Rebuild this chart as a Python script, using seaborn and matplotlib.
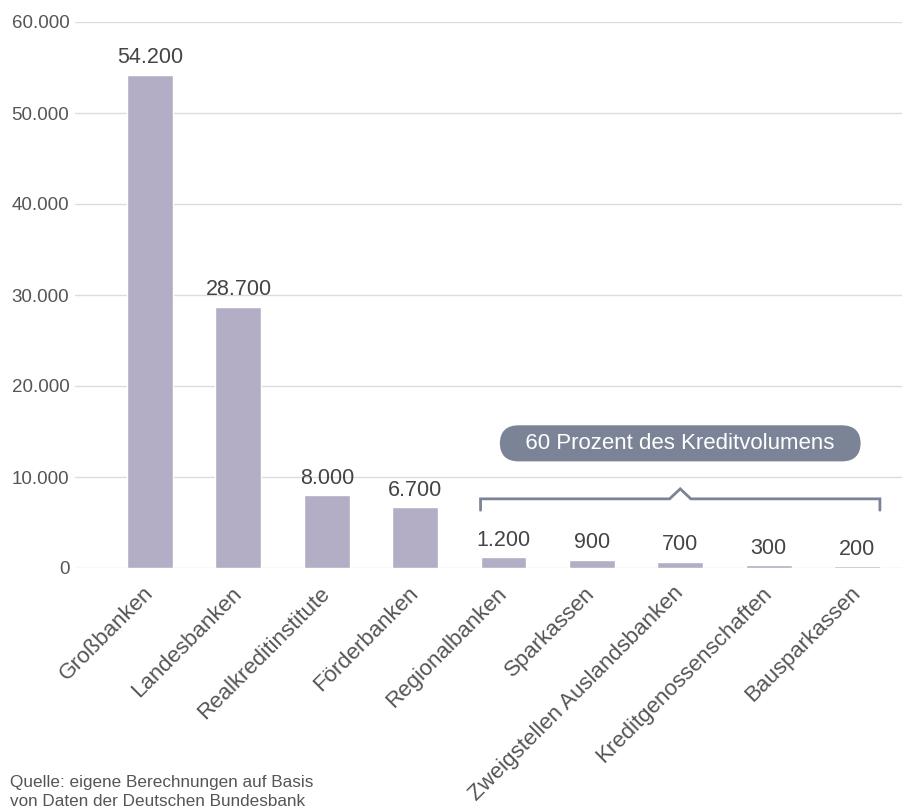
import numpy as np
import pandas as pd
import seaborn as sns
import matplotlib.pyplot as plt

# Daten
kategorien = ["Großbanken", "Landesbanken", "Realkreditinstitute", "Förderbanken",
              "Regionalbanken", "Sparkassen", "Zweigstellen Auslandsbanken",
              "Kreditgenossenschaften", "Bausparkassen"]
werte = [54200, 28700, 8000, 6700, 1200, 900, 700, 300, 200]
y_ticks = [0, 10000, 20000, 30000, 40000, 50000, 60000]

df = pd.DataFrame({"Kategorie": kategorien, "Wert": werte})

def fmt(v):
    return f"{v:,.0f}".replace(",", ".")

sns.set_style("white")
plt.rcParams["font.family"] = ["Liberation Sans", "DejaVu Sans"]

fig = plt.figure(figsize=(9.02, 8.07), dpi=100)
ax = fig.add_axes([75 / 902, 1 - 568 / 807, 1 - 75 / 902, (568 - 22) / 807])

sns.barplot(data=df, x="Kategorie", y="Wert", color="#b3aec6", width=0.52,
            saturation=1, ax=ax, zorder=3)

ax.set_ylim(0, 60000)
ax.set_xlim(-0.85, 8.51)
ax.set_yticks(y_ticks)
ax.set_yticklabels([fmt(v) for v in y_ticks])
ax.yaxis.grid(True, color="#dcdcdc", linewidth=1, zorder=0)
ax.set_axisbelow(True)
for s in ax.spines.values():
    s.set_visible(False)
ax.set_xlabel("")
ax.set_ylabel("")
ax.tick_params(axis="y", length=0, pad=4, labelsize=13.5, labelcolor="#555555")
ax.tick_params(axis="x", length=0, pad=16, labelsize=16, labelcolor="#555555")
plt.setp(ax.get_xticklabels(), rotation=45, ha="right", va="center", rotation_mode="anchor")

# Werte über den Balken
for i, v in enumerate(werte):
    ax.text(i, v + 700, fmt(v), ha="center", va="bottom", fontsize=15.5, color="#444444")

# Klammer über den kleinen Balken
ax.plot([3.74, 3.74, 5.88, 6.0, 6.12, 8.26, 8.26],
        [6350, 7600, 7600, 8700, 7600, 7600, 6350],
        color="#7b8497", linewidth=2, solid_joinstyle="miter", clip_on=False, zorder=4)

ax.text(6.0, 13700, "   60 Prozent des Kreditvolumens   ", ha="center", va="center",
        fontsize=16, color="white", zorder=5,
        bbox=dict(boxstyle="round,pad=0.34,rounding_size=0.85", fc="#7b8497", ec="none"))

fig.text(10 / 902, 1 - 792 / 807, "Quelle: eigene Berechnungen auf Basis\nvon Daten der Deutschen Bundesbank",
         ha="left", va="center", fontsize=12.3, color="#555555", linespacing=1.3)

fig.savefig("out.png", dpi=100)
